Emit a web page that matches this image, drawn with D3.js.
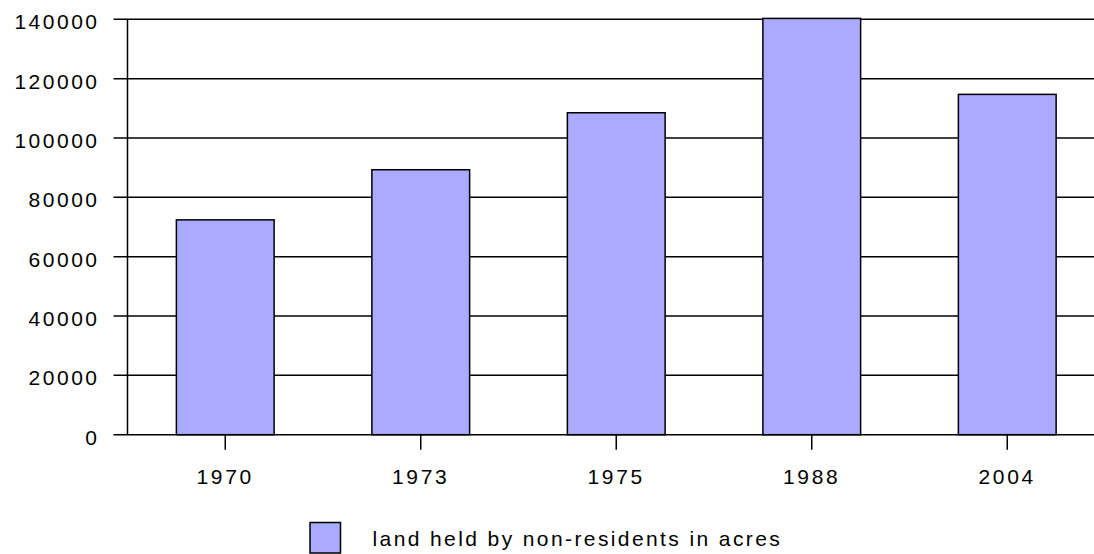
<!DOCTYPE html>
<html lang="en">
<head>
    <meta charset="UTF-8">
    <script src="https://cdnjs.cloudflare.com/ajax/libs/d3/7.8.5/d3.min.js"></script>
    <title>Land held by non-residents</title>
    <style>
        body { margin: 0; background: #fff; }
        text { font-family: "Liberation Sans", Arial, sans-serif; font-size: 21px; fill: #000; }
    </style>
</head>
<body>

<script>

    // data
    let years = ["1970", "1973", "1975", "1988", "2004"];
    let acres = [72400, 89300, 108500, 140300, 114700];
    let yTicks = [0, 20000, 40000, 60000, 80000, 100000, 120000, 140000];
    let seriesName = "land held by non-residents in acres";

    let margin = {top: 19.3, left: 127.5};
    let plotW = 977.5;   // plot runs past the right edge of the picture
    let plotH = 415.4;

    let svg = d3.select("body").append("svg")
        .attr("width", 1094)
        .attr("height", 554);

    let g = svg.append("g")
        .attr("transform", "translate(" + margin.left + "," + margin.top + ")");

    let x = d3.scaleBand().domain(years).range([0, plotW]).paddingInner(0.5).paddingOuter(0.25);
    let xc = d3.scaleBand().domain(years).range([0, plotW]);
    let y = d3.scaleLinear().domain([0, 140000]).range([plotH, 0]);

    // horizontal grid lines + y ticks
    g.selectAll(".grid")
        .data(yTicks)
        .enter().append("line")
        .attr("x1", -14).attr("x2", plotW)
        .attr("y1", d => y(d)).attr("y2", d => y(d))
        .attr("stroke", "#000").attr("stroke-width", 1.5);

    g.selectAll(".ylab")
        .data(yTicks)
        .enter().append("text")
        .attr("x", -28)
        .attr("y", d => y(d))
        .attr("dy", "10px")
        .attr("text-anchor", "end")
        .style("letter-spacing", "2.5px")
        .text(d => d);

    // bars
    g.selectAll(".bar")
        .data(acres)
        .enter().append("rect")
        .attr("x", (d, i) => x(years[i]))
        .attr("width", x.bandwidth())
        .attr("y", d => y(d))
        .attr("height", d => plotH - y(d))
        .attr("fill", "#aaaaff")
        .attr("stroke", "#000")
        .attr("stroke-width", 1.5);

    // y axis line
    g.append("line")
        .attr("x1", 0).attr("x2", 0)
        .attr("y1", 0).attr("y2", plotH)
        .attr("stroke", "#000").attr("stroke-width", 1.5);

    // x ticks at category centres
    g.selectAll(".xtick")
        .data(years)
        .enter().append("line")
        .attr("x1", d => xc(d) + xc.bandwidth() / 2)
        .attr("x2", d => xc(d) + xc.bandwidth() / 2)
        .attr("y1", plotH).attr("y2", plotH + 15)
        .attr("stroke", "#000").attr("stroke-width", 1.5);

    g.selectAll(".xlab")
        .data(years)
        .enter().append("text")
        .attr("x", d => xc(d) + xc.bandwidth() / 2)
        .attr("y", 484 - margin.top)
        .attr("dx", "0px")
        .attr("text-anchor", "middle")
        .style("letter-spacing", "2.7px")
        .text(d => d);

    // legend
    let legend = svg.append("g").attr("transform", "translate(310,522.5)");
    legend.append("rect")
        .attr("width", 30.5).attr("height", 30.5)
        .attr("fill", "#aaaaff")
        .attr("stroke", "#000").attr("stroke-width", 1.5);
    legend.append("text")
        .attr("x", 62.5).attr("y", 23.5)
        .style("letter-spacing", "2.4px")
        .text(seriesName);

</script>

</body>
</html>
